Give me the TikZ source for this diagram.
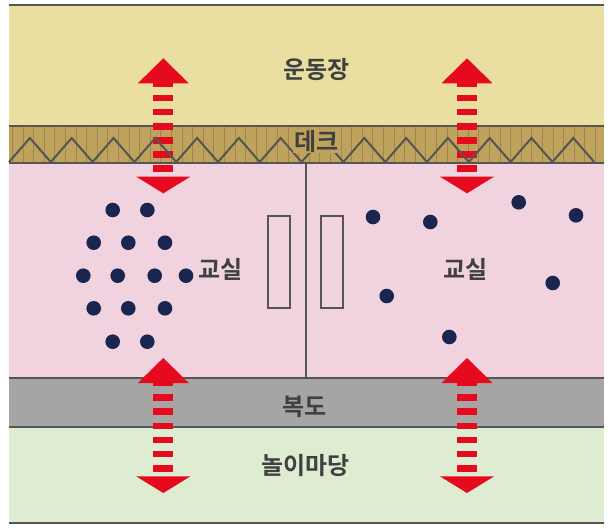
\documentclass[tikz,border=0pt]{standalone}
\usepackage{fontspec}
\newfontfamily\kr{Noto Sans CJK KR}[BoldFont={Noto Sans CJK KR Bold}]

\definecolor{yard}{HTML}{EADEA0}
\definecolor{deck}{HTML}{BFA25C}
\definecolor{deckline}{HTML}{9E8650}
\definecolor{room}{HTML}{F0D3DE}
\definecolor{hall}{HTML}{A5A5A5}
\definecolor{play}{HTML}{DEECD2}
\definecolor{linegray}{HTML}{555555}
\definecolor{txtgray}{HTML}{404040}
\definecolor{arrowred}{HTML}{E60A1E}
\definecolor{pupil}{HTML}{1A2650}

\begin{document}
\begin{tikzpicture}[x=1pt,y=-1pt,
    roomtext/.style={font=\kr\bfseries\fontsize{24}{26}\selectfont,text=txtgray,inner sep=1pt},
    wall/.style={draw=linegray,line width=2pt},
    twoway/.pic={
      \fill[arrowred] (-25.5,25) -- (0,0) -- (25.5,25) -- cycle ;
      \fill[arrowred] (-10,24.5) rectangle (10,28.4) ;
      \foreach \k in {0,...,5}
        \fill[arrowred] (-10,36.3+14.1*\k) rectangle (10,43+14.1*\k) ;
      \fill[arrowred] (-27,118.4) -- (27,118.4) -- (0,135) -- cycle ;
    }]
  \fill[white] (0,0) rectangle (615,528) ;
  \useasboundingbox (0,0) rectangle (615,528) ;
  % bands
  \fill[yard] (9,5) rectangle (604,126) ;
  \fill[deck] (9,126) rectangle (604,163) ;
  \fill[room] (9,163) rectangle (604,378) ;
  \fill[hall] (9,378) rectangle (604,427) ;
  \fill[play] (9,427) rectangle (604,523) ;
  \foreach \x in {12.5,23.1,...,604}
    \draw[deckline,line width=1pt] (\x,127) -- (\x,162) ;
  % walls and doors
  \foreach \y in {5,126,163,378,427,523}
    \draw[wall] (9,\y) -- (604,\y) ;
  \draw[wall] (306,163) -- (306,378) ;
  \draw[wall] (268.3,215.5) rectangle (290.3,307.5) ;
  \draw[wall] (321,215.5) rectangle (343,307.5) ;
  % pupils
  \foreach \p in {(112.7,210),(147.3,210),(93.7,242.7),(128.3,242.7),(165,242.7),
      (83.3,275.7),(117.7,275.7),(154.7,275.7),(186,275.7),(93.7,308.3),
      (128.3,308.3),(165,308.3),(112.7,341.7),(147.3,341.7),
      (373,217),(430.3,222),(518.7,202.3),(576,215.3),(386.7,296),
      (552.7,283),(449.3,337)}
    \fill[pupil] \p circle[radius=7.3pt] ;
  % ways out
  \pic at (163.3,58.3) {twoway} ;
  \pic at (467,58.3) {twoway} ;
  \pic at (163.3,358) {twoway} ;
  \pic at (467,358) {twoway} ;
  \draw[wall,line join=miter] (9,162) foreach \i in {0,...,13}
    { -- ({29.9+41.8*\i},138) -- ({50.8+41.8*\i},162) } ;
  % names
  \node[roomtext] (yardname) at (316.7,70) {운동장} ;
  \node[roomtext,fill=deck] (deckname) at (316.5,141) {데크} ;
  \node[roomtext] (leftroom) at (220.5,269) {교실} ;
  \node[roomtext] (rightroom) at (465.3,269) {교실} ;
  \node[roomtext] (hallname) at (304.5,407) {복도} ;
  \node[roomtext] (playname) at (305.3,466) {놀이마당} ;
\end{tikzpicture}
\end{document}
